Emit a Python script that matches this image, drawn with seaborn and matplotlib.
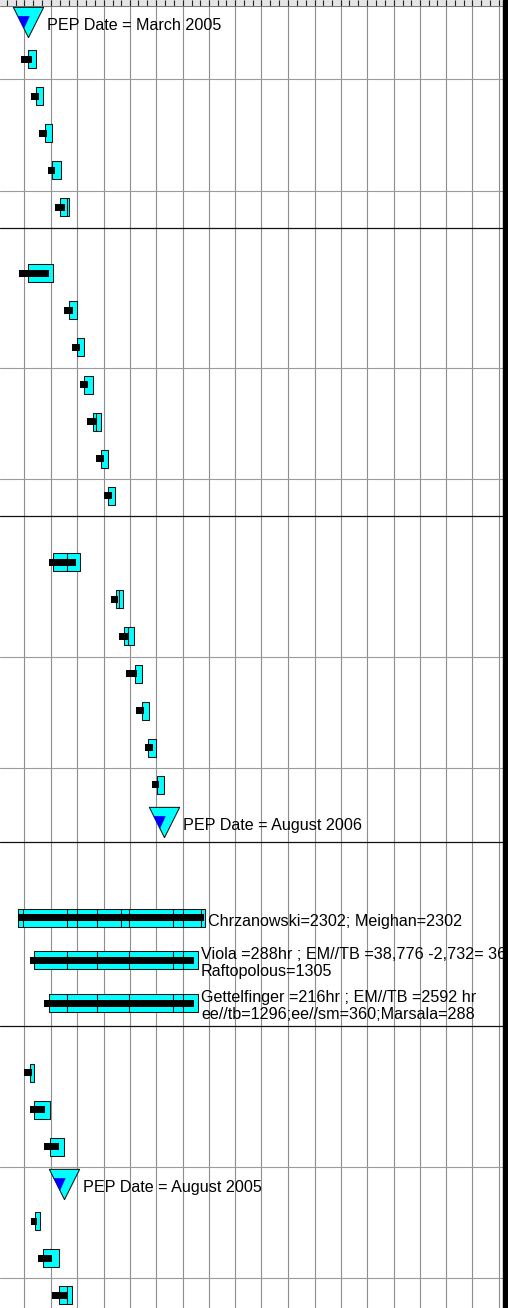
import numpy as np
import pandas as pd
import seaborn as sns
import matplotlib.pyplot as plt
import matplotlib.dates as mdates
from matplotlib.path import Path
from matplotlib.patches import Rectangle

# gantt rows, top to bottom ("sum" = summary row, bar not shown)
row_kind = (["sum", "mile"] + ["task"] * 5 +
            ["sum"] + ["task"] * 7 +
            ["sum"] + ["task"] * 7 + ["mile"] +
            ["sum"] + ["split"] * 3 +
            ["sum"] + ["task"] * 3 + ["mile"] + ["task"] * 3)

# ordinary tasks: baseline (cyan) and actual (black) dates
base_start = ["2005-04-14", "2005-05-10", "2005-06-11", "2005-07-04", "2005-08-02",
              "2005-04-14", "2005-09-03", "2005-10-01", "2005-10-25", "2005-11-23", "2005-12-22", "2006-01-16",
              "2005-07-09", "2006-02-12", "2006-03-12", "2006-04-19", "2006-05-12", "2006-06-04", "2006-07-03",
              "2005-04-20", "2005-05-05", "2005-06-28", "2005-05-09", "2005-06-05", "2005-07-30"]
base_finish = ["2005-05-11", "2005-06-05", "2005-07-04", "2005-08-04", "2005-09-03",
               "2005-07-09", "2005-10-01", "2005-10-25", "2005-11-23", "2005-12-22", "2006-01-16", "2006-02-08",
               "2005-10-12", "2006-03-09", "2006-04-15", "2006-05-14", "2006-06-06", "2006-06-30", "2006-07-28",
               "2005-05-05", "2005-06-28", "2005-08-17", "2005-05-24", "2005-07-29", "2005-09-13"]
act_start = ["2005-03-19", "2005-04-23", "2005-05-22", "2005-06-20", "2005-07-15",
             "2005-03-14", "2005-08-16", "2005-09-13", "2005-10-12", "2005-11-04", "2005-12-04", "2006-01-01",
             "2005-06-26", "2006-01-25", "2006-02-23", "2006-03-20", "2006-04-24", "2006-05-23", "2006-06-16",
             "2005-03-31", "2005-04-20", "2005-06-08", "2005-04-23", "2005-05-18", "2005-07-04"]
act_finish = ["2005-04-26", "2005-05-21", "2005-06-19", "2005-07-15", "2005-08-19",
              "2005-06-25", "2005-09-15", "2005-10-10", "2005-11-08", "2005-12-07", "2006-01-01", "2006-01-28",
              "2005-09-26", "2006-02-20", "2006-03-24", "2006-04-26", "2006-05-21", "2006-06-19", "2006-07-12",
              "2005-04-28", "2005-06-11", "2005-07-30", "2005-05-16", "2005-07-07", "2005-08-28"]
task_splits = {4: ["2005-08-28"], 9: ["2005-12-04"], 12: ["2005-08-27"],
               13: ["2006-02-24"], 14: ["2006-03-26"], 24: ["2005-08-25"]}

# milestones
mile_date = ["2005-04-13", "2006-07-28", "2005-08-15"]
mile_label = ["PEP Date = March 2005", "PEP Date = August 2006", "PEP Date = August 2005"]

# long split tasks with resource notes
long_start = ["2005-03-10", "2005-05-04", "2005-06-26"]
long_finish = ["2006-12-17", "2006-11-23", "2006-11-23"]
long_act_start = ["2005-03-10", "2005-04-20", "2005-06-08"]
long_act_finish = ["2006-12-14", "2006-11-09", "2006-11-09"]
long_splits = [["2005-03-27", "2005-08-25", "2005-10-01", "2005-12-07", "2006-02-28",
                "2006-03-30", "2006-08-27", "2006-10-03", "2006-12-03"],
               ["2005-08-25", "2005-12-07", "2006-03-30", "2006-08-27", "2006-10-03"],
               ["2005-08-25", "2005-12-07", "2006-03-30", "2006-08-27", "2006-10-03"]]
long_label = ["Chrzanowski=2302; Meighan=2302",
              "Viola =288hr ; EM//TB =38,776 -2,732= 36\nRaftopolous=1305",
              "Gettelfinger =216hr ; EM//TB =2592 hr\nee//tb=1296;ee//sm=360;Marsala=288"]

# ---- layout (pixels) ----
W, H = 508, 1308
DAYS_PER_PX = 3.465
TOP = 5.1
ROW_H = 37.1
sum_h = [29.0, 28.7, 29.3, 56.0, 29.7]
split_h = [42.0, 43.0, 43.0]
gray_after = [2, 5, 10, 13, 18, 21, 31, 34]
dark_after = [6, 14, 23, 27]


def dn(lst):
    return mdates.date2num(pd.to_datetime(lst))


# row geometry
heights = []
si = pi = 0
for k in row_kind:
    if k == "sum":
        heights.append(sum_h[si]); si += 1
    elif k == "split":
        heights.append(split_h[pi]); pi += 1
    else:
        heights.append(ROW_H)
tops = TOP - sum_h[0] + np.concatenate([[0], np.cumsum(heights)[:-1]])
bottoms = tops + np.array(heights)
centers = tops + np.array(heights) / 2 - 1.7

task_y = [c for c, k in zip(centers, row_kind) if k == "task"]
mile_y = [c for c, k in zip(centers, row_kind) if k == "mile"]
long_y = [c for c, k in zip(centers, row_kind) if k == "split"]

sns.set_theme(style="white")
plt.rcParams["font.family"] = ["Liberation Sans", "DejaVu Sans"]

fig = plt.figure(figsize=(W / 100, H / 100), dpi=100)
ax = fig.add_axes([0, 0, 1, 1])

x_left = dn(["2005-01-01"])[0] + 1.5 * DAYS_PER_PX
x_right = x_left + W * DAYS_PER_PX

CYAN, EDGE = "#00ffff", "#111111"
CYAN_H, BLACK_H = 18, 7


def draw_bar(y, s, f, a0, a1, cuts):
    edges = dn([s] + cuts + [f])
    ax.barh([y] * (len(edges) - 1), np.diff(edges), left=edges[:-1], height=CYAN_H,
            color=CYAN, edgecolor=EDGE, linewidth=0.75, zorder=2)
    a = dn([a0, a1])
    ax.barh(y, a[1] - a[0], left=a[0], height=BLACK_H, color="black", linewidth=0, zorder=3)


for i, y in enumerate(task_y):
    draw_bar(y, base_start[i], base_finish[i], act_start[i], act_finish[i], task_splits.get(i, []))

for i, y in enumerate(long_y):
    draw_bar(y, long_start[i], long_finish[i], long_act_start[i], long_act_finish[i], long_splits[i])
    # baseline of the last line is anchored
    dy = -8.5 if "\n" not in long_label[i] else -16.3
    ax.annotate(long_label[i], (dn([long_finish[i]])[0], y), xytext=(3, dy),
                textcoords="offset pixels", ha="left", va="baseline",
                fontsize=11.6, linespacing=1.2, color="black", zorder=6)

# milestones
mx = dn(mile_date)
S = 21.8 ** 2
sns.scatterplot(x=mx, y=mile_y, marker="v", s=S, color=CYAN, edgecolor=EDGE,
                linewidth=0.75, zorder=4, legend=False, ax=ax)
blue = Path([(-0.72, 0.42), (0.08, 0.42), (-0.3, -0.42), (-0.72, 0.42)], closed=True)
ax.scatter(mx, mile_y, marker=blue, s=S * 0.72 ** 2, color="#0000ff", linewidths=0, zorder=5)
for x, y, lab in zip(mx, mile_y, mile_label):
    ax.annotate(lab, (x, y), xytext=(19.5, -7.7), textcoords="offset pixels",
                ha="left", va="baseline", fontsize=11.6, color="black", zorder=6)

# row separators
for i in gray_after:
    ax.axhline(bottoms[i], color="#9c9c9c", lw=0.8, zorder=0.6)
for i in dark_after:
    ax.axhline(bottoms[i], color="#111111", lw=0.9, zorder=0.6)

# timescale strip on top and quarter gridlines
ax.axhspan(0, 5.5, color="#e4e4e4", zorder=0.3)
ax.axhline(5.5, color="#777777", lw=0.7, zorder=0.6)
ax.xaxis.set_major_locator(mdates.MonthLocator(bymonth=[1, 4, 7, 10]))
ax.xaxis.set_minor_locator(mdates.MonthLocator())
ax.set_axisbelow(True)
ax.grid(True, axis="x", which="major", color="#8e8e8e", lw=0.8)
ax.grid(False, axis="y")
ax.tick_params(axis="x", which="both", top=True, bottom=False, labeltop=False,
               labelbottom=False, direction="in", length=4.0, width=0.8, color="#222222")
ax.tick_params(axis="y", left=False, labelleft=False)
for sp in ax.spines.values():
    sp.set_visible(False)

# right border of the pane
ax.add_patch(Rectangle(((W - 5) / W, 0), 5 / W, 1, transform=ax.transAxes,
                       color="black", zorder=10, clip_on=False))

ax.set_xlim(x_left, x_right)
ax.set_ylim(H, 0)
ax.set_xlabel("")
ax.set_ylabel("")

fig.savefig("out.png", dpi=100)
